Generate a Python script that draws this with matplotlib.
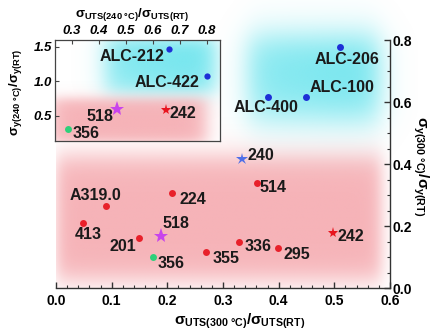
import matplotlib
matplotlib.use('Agg')
import matplotlib.pyplot as plt
from matplotlib.ticker import MultipleLocator
import numpy as np

plt.rcParams['font.family'] = ['Liberation Sans', 'DejaVu Sans']
plt.rcParams['font.weight'] = 'bold'
plt.rcParams['mathtext.fontset'] = 'custom'
plt.rcParams['mathtext.rm'] = 'Liberation Sans:bold'
plt.rcParams['mathtext.it'] = 'Liberation Sans:bold'
plt.rcParams['mathtext.bf'] = 'Liberation Sans:bold'

# main chart: sigma_UTS(300C)/sigma_UTS(RT) vs sigma_y(300C)/sigma_y(RT)
main_names = ['ALC-206', 'ALC-100', 'ALC-400', '240', '514', '242', '336', '295',
              '355', '224', 'A319.0', '413', '201', '518', '356']
main_x = [0.510, 0.449, 0.381, 0.334, 0.361, 0.497, 0.329, 0.399,
          0.269, 0.208, 0.090, 0.048, 0.149, 0.189, 0.174]
main_y = [0.777, 0.616, 0.616, 0.416, 0.339, 0.177, 0.148, 0.129,
          0.116, 0.306, 0.265, 0.210, 0.161, 0.168, 0.100]

# inset chart: 240 C values
inset_names = ['ALC-212', 'ALC-422', '518', '242', '356']
inset_x = [0.659, 0.800, 0.467, 0.648, 0.285]
inset_y = [1.47, 1.07, 0.603, 0.588, 0.309]

main_xticks = [0.0, 0.1, 0.2, 0.3, 0.4, 0.5, 0.6]
main_yticks = [0.0, 0.2, 0.4, 0.6, 0.8]
inset_xticks = [0.3, 0.4, 0.5, 0.6, 0.7, 0.8]
inset_yticks = [0.5, 1.0, 1.5]

# marker style per alloy
style = {
    'ALC-206': ('o', '#1d2fd6', 5), 'ALC-100': ('o', '#1d2fd6', 5),
    'ALC-400': ('o', '#1d2fd6', 5), 'ALC-212': ('o', '#1d2fd6', 4.5),
    'ALC-422': ('o', '#1d2fd6', 4.5),
    '240': ('*', '#4f6fe8', 9), '242': ('*', '#e8141e', 8),
    '518': ('*', '#c844ec', 11), '356': ('o', '#2ed07a', 5),
}
# label placement (pixels from marker, ha)
main_lab = {
    'ALC-206': (7, -12, 'center'), 'ALC-100': (4, 10, 'left'), 'ALC-400': (-2, -10, 'center'),
    '240': (6, 4, 'left'), '514': (3, -5, 'left'), '242': (5, -3, 'left'),
    '336': (5, -4, 'left'), '295': (5, -6, 'left'), '355': (7, -6, 'left'),
    '224': (8, -6, 'left'), 'A319.0': (-11, 10, 'center'), '413': (6, -12, 'center'),
    '201': (-3, -8, 'right'), '518': (1, 12, 'left'), '356': (5, -6, 'left'),
}
inset_lab = {
    'ALC-212': (-4, -8, 'right'), 'ALC-422': (-7, -6, 'right'), '518': (-4, -8, 'right'),
    '242': (4, -4, 'left'), '356': (5, -5, 'left'),
}


def soft_box(ax, x0, x1, y0, y1, rgb, fx, fy, alpha=1.0, clip=True, grad=None):
    xs = np.linspace(x0 - 5 * fx, x1 + 5 * fx, 300)
    ys = np.linspace(y0 - 5 * fy, y1 + 5 * fy, 300)
    X, Y = np.meshgrid(xs, ys)
    sig = lambda t: 1.0 / (1.0 + np.exp(-t))
    a = sig((X - x0) / fx) * sig((x1 - X) / fx) * sig((Y - y0) / fy) * sig((y1 - Y) / fy)
    if grad is not None:
        # stronger towards one corner
        gx, gy = grad
        a = a * (0.75 + 0.25 * ((X - x0) / (x1 - x0) * gx + (Y - y0) / (y1 - y0) * gy))
    img = np.zeros(X.shape + (4,))
    img[..., :3] = np.array(rgb) / 255.0
    img[..., 3] = np.clip(a, 0, 1) * alpha
    im = ax.imshow(img, extent=[xs[0], xs[-1], ys[0], ys[-1]], origin='lower',
                   aspect='auto', interpolation='bilinear', zorder=0)
    im.set_clip_on(clip)


def draw_points(ax, names, xs, ys, labs, fs):
    for n, x, y in zip(names, xs, ys):
        m, c, s = style.get(n, ('o', '#e8202a', 5))
        ax.plot(x, y, marker=m, color=c, markersize=s, markeredgewidth=0, zorder=3, clip_on=False)
        dx, dy, ha = labs[n]
        ax.annotate(n, (x, y), xytext=(dx, dy), textcoords='offset pixels',
                    ha=ha, va='center', fontsize=fs, fontweight='bold', color='#1a1a1a', zorder=5)


fig = plt.figure(figsize=(4.35, 3.34), dpi=100)
ax = fig.add_axes([56 / 435, 1 - 288 / 334, 334 / 435, 248 / 334])
ax.set_facecolor('none')

# shaded regions
soft_box(ax, 0.0, 0.585, 0.025, 0.425, (244, 160, 166), 0.008, 0.025, 0.8)
soft_box(ax, 0.345, 0.58, 0.54, 0.81, (95, 226, 236), 0.014, 0.035, 0.9, clip=False, grad=(0.6, 0.6))

draw_points(ax, main_names, main_x, main_y, main_lab, 11.5)

ax.set_xlim(0, 0.6)
ax.set_ylim(0, 0.8)
ax.spines['left'].set_visible(False)
ax.spines['top'].set_visible(False)
for sp in ['bottom', 'right']:
    ax.spines[sp].set_linewidth(1.0)
    ax.spines[sp].set_color('#333333')
ax.yaxis.tick_right()
ax.set_xticks(main_xticks)
ax.set_yticks(main_yticks)
ax.set_xticklabels(['%.1f' % v for v in main_xticks])
ax.set_yticklabels(['%.1f' % v for v in main_yticks])
ax.xaxis.set_minor_locator(MultipleLocator(0.02))
ax.yaxis.set_minor_locator(MultipleLocator(0.05))
ax.tick_params(axis='both', which='major', direction='in', length=4, width=1, color='#333333',
               labelsize=10, pad=2)
ax.tick_params(axis='x', which='major', pad=4)
ax.tick_params(axis='both', which='minor', direction='in', length=2, width=0.8, color='#333333')
ax.tick_params(axis='y', which='both', left=False, right=True, labelright=True, labelleft=False)
for t in ax.get_xticklabels() + ax.get_yticklabels():
    t.set_fontweight('bold')

fig.text(240 / 435, 1 - 321 / 334, r'$\sigma_{\mathrm{UTS(300\ °C)}}/\sigma_{\mathrm{UTS(RT)}}$',
         ha='center', va='center', fontsize=11)
fig.text(421 / 435, 1 - 166 / 334, r'$\sigma_{\mathrm{y(300\ °C)}}/\sigma_{\mathrm{y(RT)}}$',
         ha='center', va='center', fontsize=11, rotation=270)

# inset
axi = fig.add_axes([55 / 435, 1 - 141 / 334, 165 / 435, 101 / 334])
axi.set_facecolor('white')
soft_box(axi, 0.42, 0.83, 0.82, 1.62, (95, 226, 236), 0.025, 0.08, 0.9, grad=(0.6, 0.6))
soft_box(axi, 0.22, 0.80, 0.10, 0.74, (244, 160, 166), 0.02, 0.05, 0.8)
draw_points(axi, inset_names, inset_x, inset_y, inset_lab, 11.5)
axi.set_xlim(0.237, 0.85)
axi.set_ylim(0.13, 1.60)
for sp in axi.spines.values():
    sp.set_linewidth(0.9)
    sp.set_color('#444444')
axi.xaxis.tick_top()
axi.set_xticks(inset_xticks)
axi.set_yticks(inset_yticks)
axi.set_xticklabels(['%.1f' % v for v in inset_xticks])
axi.set_yticklabels(['%.1f' % v for v in inset_yticks])
axi.tick_params(axis='both', direction='in', length=3, width=0.8, color='#444444', labelsize=9.5, pad=2)
for t in axi.get_xticklabels() + axi.get_yticklabels():
    t.set_fontweight('bold')
    t.set_fontstyle('italic')

fig.text(132 / 435, 1 - 15 / 334, r'$\sigma_{\mathrm{UTS(240\ °C)}}/\sigma_{\mathrm{UTS(RT)}}$',
         ha='center', va='center', fontsize=9.5)
fig.text(16 / 435, 1 - 92 / 334, r'$\sigma_{\mathrm{y(240\ °C)}}/\sigma_{\mathrm{y(RT)}}$',
         ha='center', va='center', fontsize=9.5, rotation=90)

fig.savefig('out.png', dpi=100)
